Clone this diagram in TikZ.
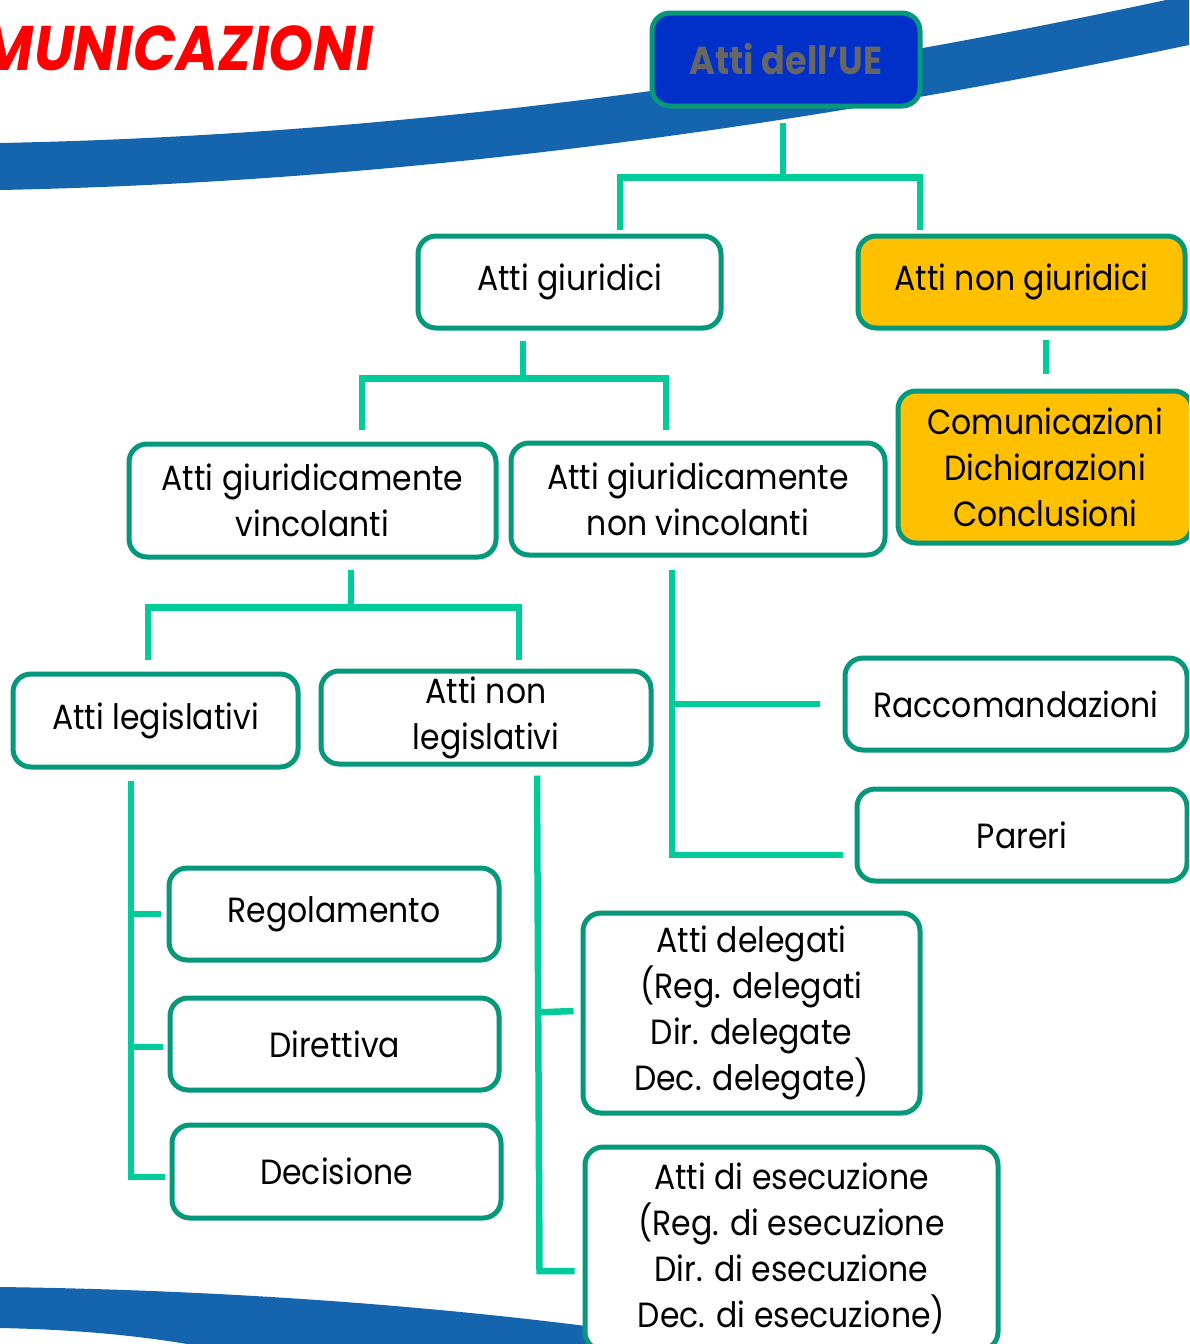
\documentclass[tikz,border=0pt]{standalone}
\usepackage{fontspec}
\setmainfont{Poppins}[FakeStretch=0.9]
\usetikzlibrary{calc}
\definecolor{bandblue}{HTML}{1565AE}
\definecolor{boxgreen}{HTML}{05987A}
\definecolor{lineg}{HTML}{00CC99}
\definecolor{ueblue}{HTML}{0030C8}
\definecolor{gold}{HTML}{FFC000}
\definecolor{titlered}{HTML}{FF0000}
\definecolor{uegray}{HTML}{666666}
\newcommand\bodyfont{\fontsize{35}{46}\selectfont}
\begin{document}
\begin{tikzpicture}[x=1pt,y=-1pt,
  box/.style={draw=boxgreen,line width=5pt,rounded corners=18pt,fill=white,
    inner sep=0pt,align=center,font=\bodyfont,text=black},
  goldbox/.style={box,fill=gold},
  conn/.style={draw=lineg,line width=6.5pt,line join=miter}]
\useasboundingbox (0,0) rectangle (1189,1344);
\clip (0,0) rectangle (1189,1344);
\fill[white] (0,0) rectangle (1189,1344);
% bands
\fill[bandblue] (0,143) .. controls (400,135) and (800,80) .. (1189,-5)
  -- (1189,45) .. controls (800,127) and (400,182) .. (0,190) -- cycle;
\fill[bandblue] (0,1287) .. controls (300,1291) and (600,1318) .. (860,1370)
  -- (300,1370) .. controls (200,1340) and (100,1330) .. (0,1328) -- cycle;
% title
\node[font=\fontsize{63}{63}\selectfont\bfseries\itshape,text=titlered,
  anchor=base east,inner sep=0pt] (title) at (373,70) {MUNICAZIONI};
% nodes
\node[box,fill=ueblue,minimum width=268pt,minimum height=93pt,
  font=\fontsize{39}{40}\selectfont\bfseries,text=uegray] (ue) at (786,59.5) {Atti dell’UE};
\node[box,minimum width=303pt,minimum height=92pt] (giur) at (569.5,282) {Atti giuridici};
\node[goldbox,minimum width=327pt,minimum height=92pt] (nongiur) at (1021.5,282) {Atti non giuridici};
\node[goldbox,minimum width=294pt,minimum height=152pt] (com) at (1045,467)
  {Comunicazioni\\Dichiarazioni\\Conclusioni};
\node[box,minimum width=367pt,minimum height=113pt] (vinc) at (312.5,500.5)
  {Atti giuridicamente\\vincolanti};
\node[box,minimum width=374pt,minimum height=112pt] (nonvinc) at (698,499)
  {Atti giuridicamente\\non vincolanti};
\node[box,minimum width=285pt,minimum height=93pt] (leg) at (155.5,720.5) {Atti legislativi};
\node[box,minimum width=330pt,minimum height=93pt] (nonleg) at (486,717.5) {Atti non\\legislativi};
\node[box,minimum width=342pt,minimum height=92pt] (racc) at (1016,704) {Raccomandazioni};
\node[box,minimum width=330pt,minimum height=92pt] (pareri) at (1022,835) {Pareri};
\node[box,minimum width=330pt,minimum height=92pt] (reg) at (334,914) {Regolamento};
\node[box,minimum width=329pt,minimum height=92pt] (dir) at (334.5,1044) {Direttiva};
\node[box,minimum width=329pt,minimum height=93pt] (dec) at (336.5,1171.5) {Decisione};
\node[box,minimum width=337pt,minimum height=200pt] (deleg) at (751.5,1013)
  {Atti delegati\\(Reg. delegati\\Dir. delegate\\Dec. delegate)};
\node[box,minimum width=413pt,minimum height=203pt] (esec) at (791.5,1248.5)
  {Atti di esecuzione\\(Reg. di esecuzione\\Dir. di esecuzione\\Dec. di esecuzione)};
% connectors
\draw[conn] ([xshift=-3pt,yshift=-14pt]ue.south) -- ++(0,55) coordinate (a1);
\draw[conn] ([xshift=50.5pt,yshift=4pt]giur.north) |- (a1) -| ([xshift=-101.5pt,yshift=4pt]nongiur.north);
\draw[conn] ([xshift=-46.5pt,yshift=-10pt]giur.south) -- ++(0,38) coordinate (b1);
\draw[conn] ([xshift=49.5pt,yshift=12pt]vinc.north) |- (b1) -| ([xshift=-32pt,yshift=11pt]nonvinc.north);
\draw[conn] ([xshift=24.5pt,yshift=-9pt]nongiur.south) -- ([xshift=1pt,yshift=15pt]com.north);
\draw[conn] ([xshift=38.5pt,yshift=-10pt]vinc.south) -- ++(0,38) coordinate (d1);
\draw[conn] ([xshift=-7.5pt,yshift=12pt]leg.north) |- (d1) -| ([xshift=33pt,yshift=9pt]nonleg.north);
\draw[conn] ([xshift=-26pt,yshift=-12pt]nonvinc.south) coordinate (e0) |- ([xshift=-23pt]racc.west);
\draw[conn] (e0) |- ([xshift=-12pt,yshift=-20pt]pareri.west);
\draw[conn] ([xshift=-24.5pt,yshift=-11pt]leg.south) coordinate (f0) |- ([xshift=-5pt,yshift=-5.5pt]dec.west);
\draw[conn] (f0) |- ([xshift=-6pt]reg.west);
\draw[conn] (f0) |- ([xshift=-5pt,yshift=-3pt]dir.west);
\draw[conn] ([xshift=51pt,yshift=-9pt]nonleg.south) coordinate (g0)
  -- ([xshift=-43pt,yshift=-22.5pt]esec.west) coordinate (g1)
  -- ([xshift=-8pt,yshift=-22.5pt]esec.west);
\draw[conn] ($(g0)!0.478!(g1)$) -- ([xshift=-7pt,yshift=2pt]deleg.west);
\end{tikzpicture}
\end{document}
